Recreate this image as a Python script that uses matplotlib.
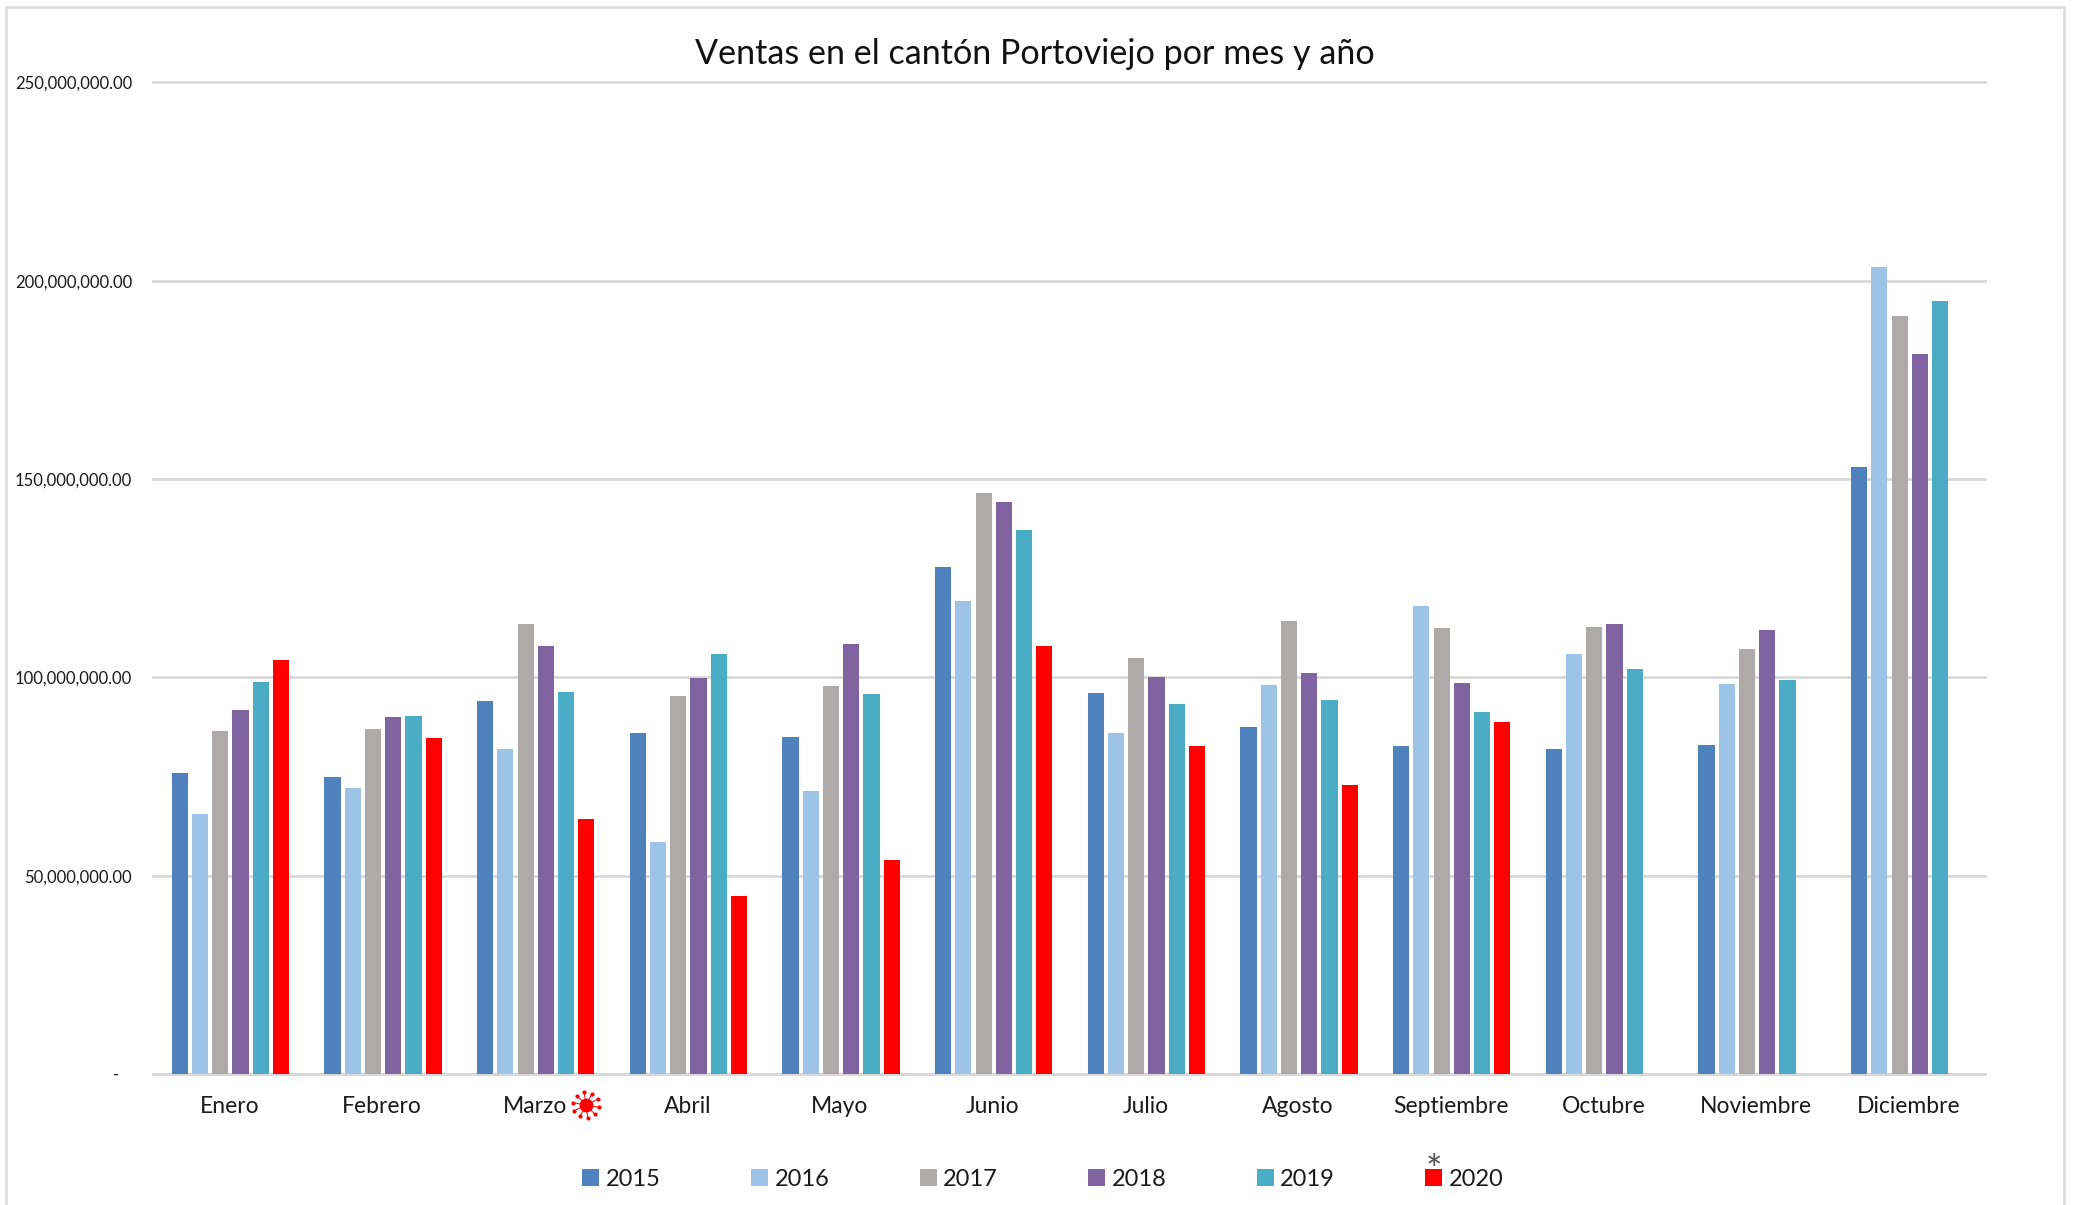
#!/usr/bin/env python
"""Ventas mensuales en Portoviejo, barras agrupadas por mes y año"""
import numpy as np
from matplotlib import patches, lines, pyplot as plt

plt.rcParams['font.family'] = ['Lato', 'DejaVu Sans']

W, H = 2076, 1205

MONTHS = ["Enero", "Febrero", "Marzo", "Abril", "Mayo", "Junio", "Julio",
          "Agosto", "Septiembre", "Octubre", "Noviembre", "Diciembre"]
YEARS = ["2015", "2016", "2017", "2018", "2019", "2020"]
COLORS = ["#4F81BD", "#9DC3E6", "#AEAAAA", "#8064A2", "#4BACC6", "#FF0000"]

# millones de dolares
V2015 = [75.8, 74.8, 94.0, 86.0, 85.0, 127.8, 96.0, 87.4, 82.8, 82.0, 83.0, 153.0]
V2016 = [65.5, 72.0, 82.0, 58.4, 71.4, 119.2, 86.0, 98.0, 118.0, 105.8, 98.4, 203.6]
V2017 = [86.4, 87.0, 113.5, 95.2, 97.8, 146.5, 104.8, 114.2, 112.4, 112.8, 107.2, 191.2]
V2018 = [91.8, 90.0, 108.0, 99.8, 108.5, 144.2, 100.0, 101.2, 98.5, 113.5, 112.0, 181.5]
V2019 = [98.8, 90.2, 96.4, 106.0, 95.8, 137.2, 93.4, 94.2, 91.2, 102.2, 99.4, 194.8]
V2020 = [104.5, 84.8, 64.4, 44.8, 54.0, 107.8, 82.8, 72.8, 88.8]

YTICKS = [0, 50e6, 100e6, 150e6, 200e6, 250e6]
YTICKLABELS = ["-   ", "50,000,000.00", "100,000,000.00", "150,000,000.00",
               "200,000,000.00", "250,000,000.00"]

GRID = "#D9D9D9"


def fx(px):
    return px / W


def fy(py):
    return 1 - py / H


def draw_virus(fig, cx, cy):
    """Icono del virus junto a Marzo, en pixeles de la figura"""
    for ang in np.arange(0, 360, 36):
        a = np.deg2rad(ang + 10)
        x1, y1 = cx + 13 * np.cos(a), cy + 13 * np.sin(a)
        fig.add_artist(lines.Line2D([fx(cx), fx(x1)], [fy(cy), fy(y1)],
                                    color="red", lw=0.7))
        fig.add_artist(lines.Line2D([fx(x1)], [fy(y1)], marker="o", ms=3,
                                    color="red", mew=0))
    fig.add_artist(lines.Line2D([fx(cx)], [fy(cy)], marker="o", ms=10,
                                color="red", mew=0))


fig = plt.figure(figsize=(W / 100, H / 100), dpi=100)
fig.add_artist(patches.Rectangle((fx(6), -0.02), fx(2064 - 6), fy(7) + 0.02,
                                 transform=fig.transFigure, fill=False,
                                 edgecolor="#DEDEDE", lw=2, zorder=-1))

ax = fig.add_axes([fx(153), fy(1074), fx(1985 - 153), (1074 - 82.5) / H])
ax.patch.set_alpha(0)

series = [V2015, V2016, V2017, V2018, V2019, V2020]
step = 0.1325
width = 0.106
x = np.arange(len(MONTHS))
handles = []
for i, vals in enumerate(series):
    vals = np.array(vals) * 1e6
    b = ax.bar(x[:len(vals)] + (i - 2.5) * step + 0.007, vals, width,
               color=COLORS[i], label=YEARS[i], zorder=3)
    handles.append(b)

ax.set_xlim(-0.5, len(MONTHS) - 0.5)
ax.set_ylim(0, 250e6)
ax.set_yticks(YTICKS)
ax.set_yticklabels(YTICKLABELS, fontsize=12, color="#1a1a1a")
ax.set_xticks(x)
ax.set_xticklabels(MONTHS, fontsize=16.5, color="#1a1a1a")
ax.tick_params(axis="both", length=0)
ax.tick_params(axis="x", pad=16)
ax.tick_params(axis="y", pad=15)
ax.grid(axis="y", color=GRID, lw=2, zorder=0, clip_on=False)
for s in ["top", "right", "left"]:
    ax.spines[s].set_visible(False)
ax.spines["bottom"].set_color(GRID)
ax.spines["bottom"].set_linewidth(2)

fig.text(fx(1035), fy(54.5), "Ventas en el cantón Portoviejo por mes y año",
         fontsize=24.6, ha="center", va="center", color="#111111")

fig.legend(handles=handles, loc="center", bbox_to_anchor=(fx(1043), fy(1179)),
           ncol=6, frameon=False, fontsize=17, handlelength=0.72,
           handleheight=0.72, handletextpad=0.28, columnspacing=3.82,
           labelcolor="#1a1a1a")
fig.text(fx(1434), fy(1172), "*", fontsize=28, ha="center", va="center",
         color="#555555")

draw_virus(fig, 586, 1105)

plt.savefig("out.png", dpi=100)
